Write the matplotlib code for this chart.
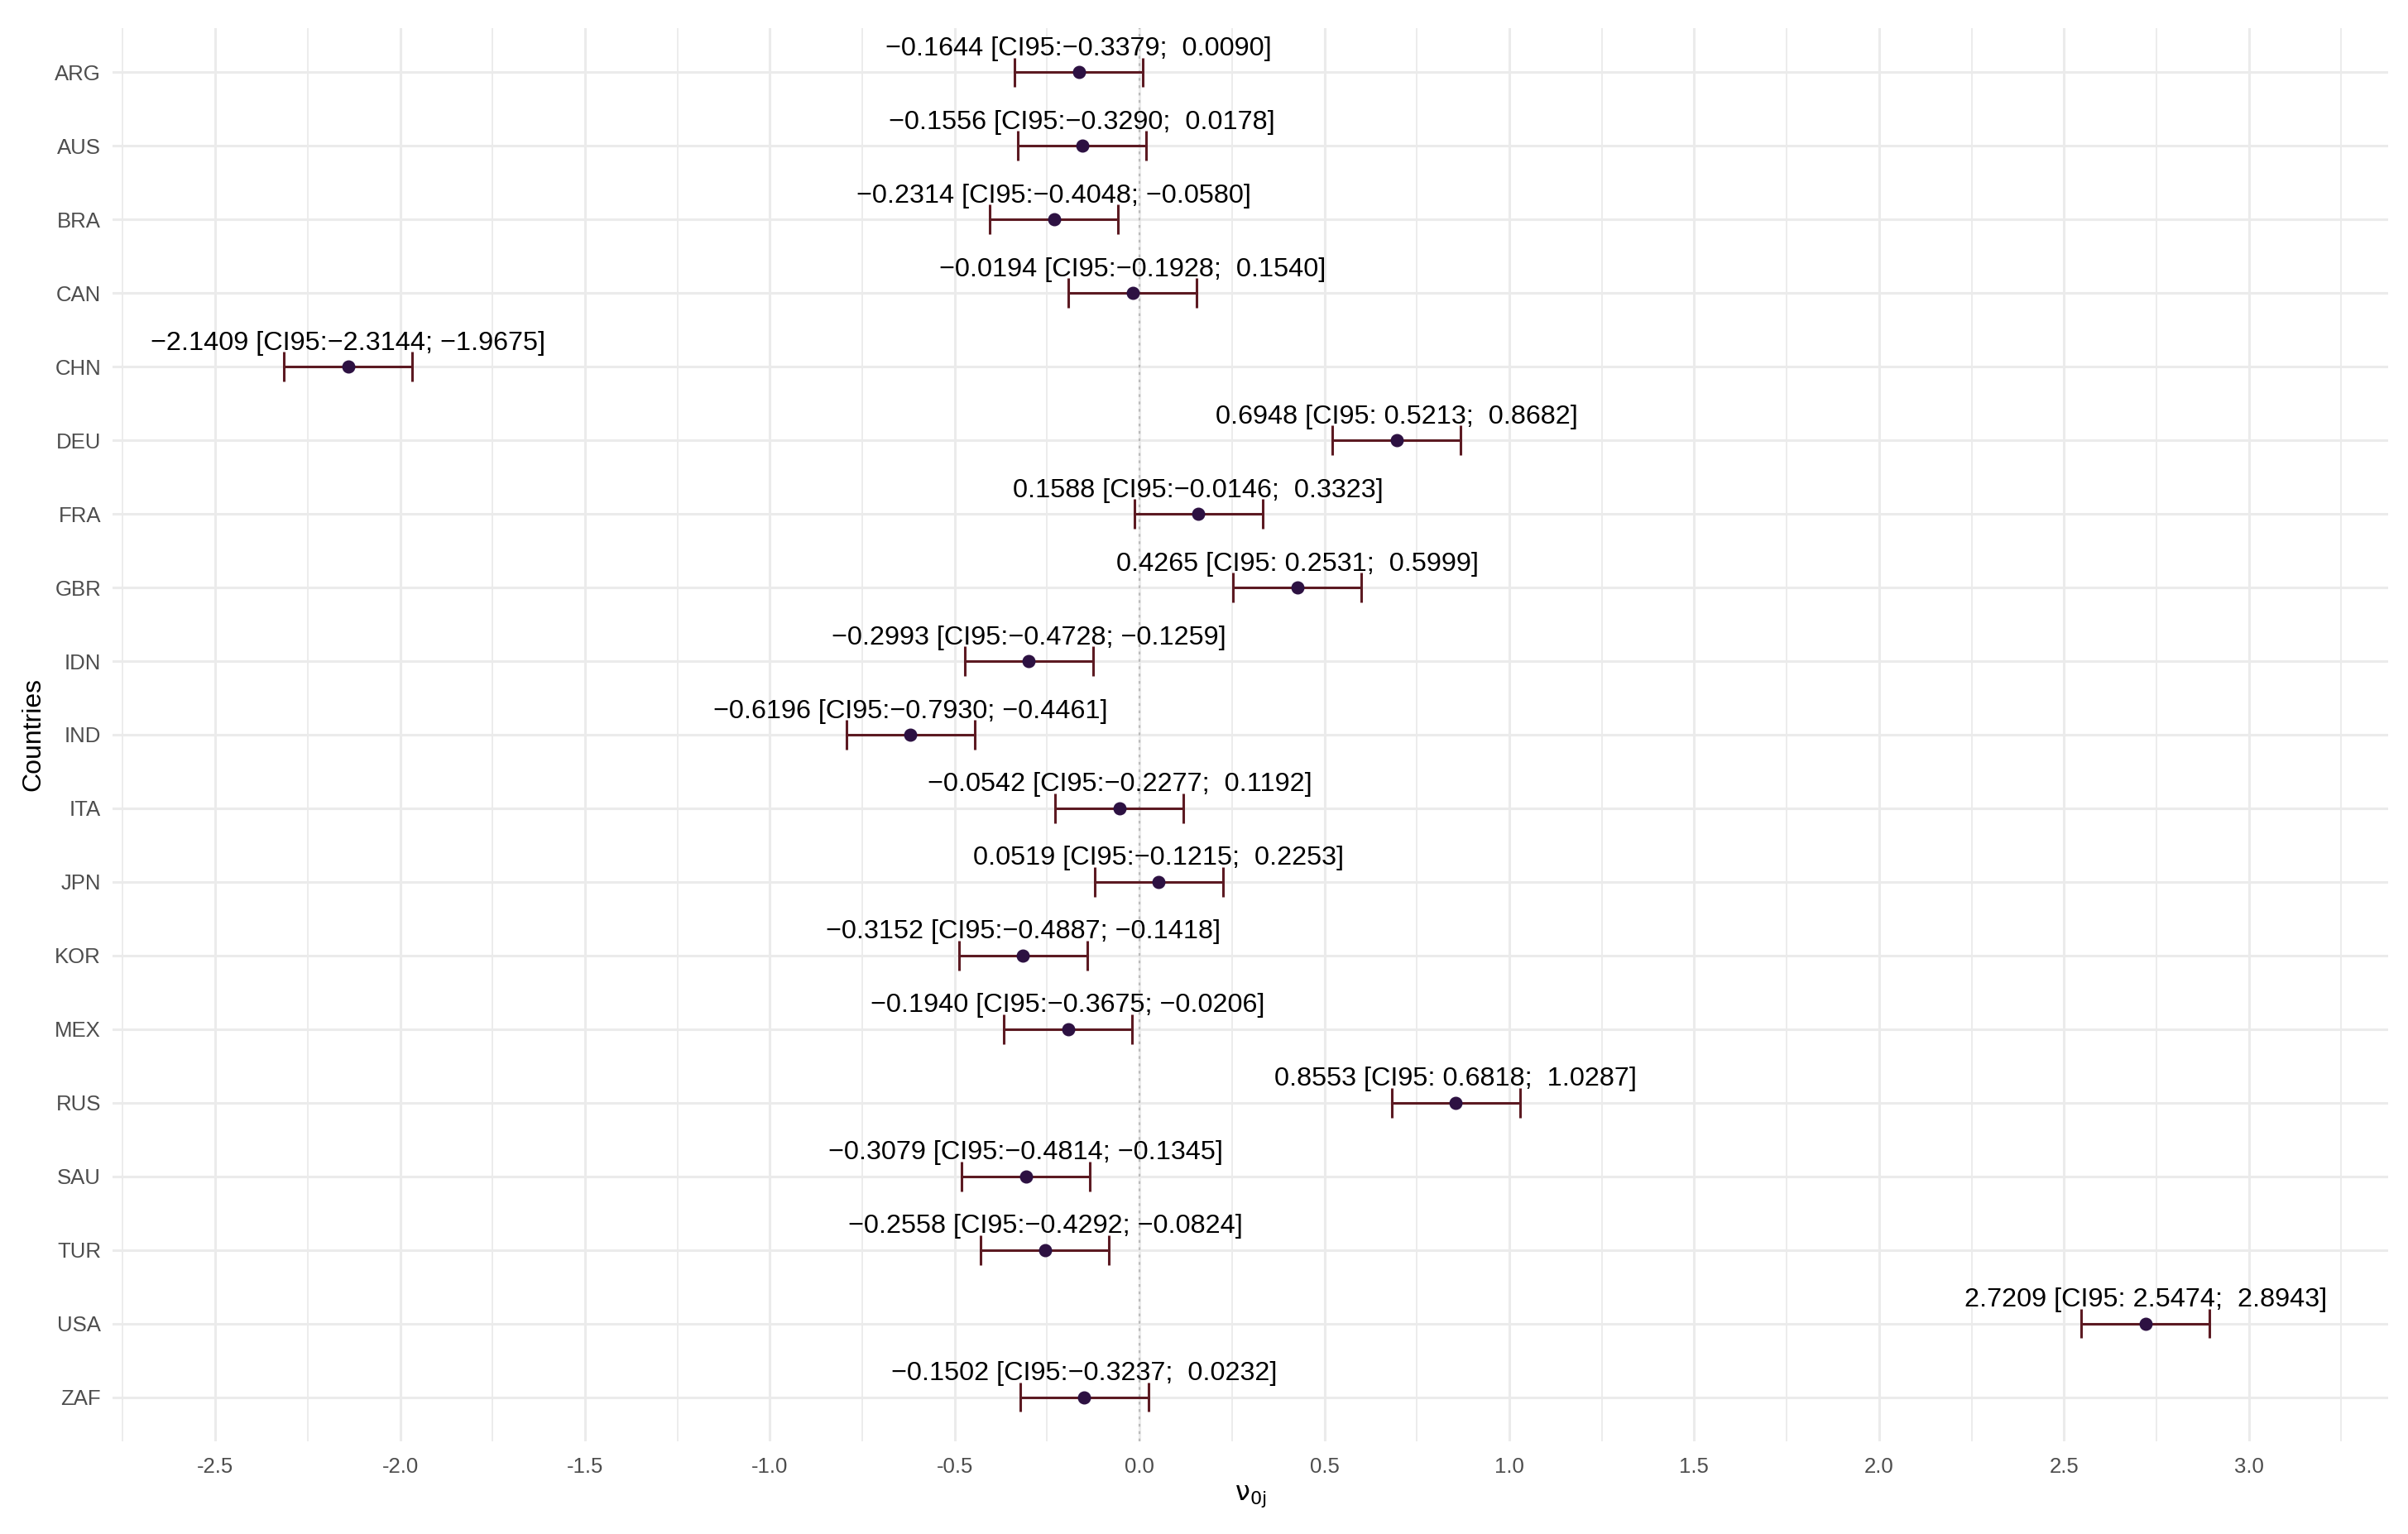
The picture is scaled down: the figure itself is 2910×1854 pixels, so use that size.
import matplotlib
matplotlib.use("Agg")
import matplotlib.pyplot as plt

# ----------
# DATA
# ----------
countries = ["ARG", "AUS", "BRA", "CAN", "CHN", "DEU", "FRA", "GBR", "IDN", "IND",
             "ITA", "JPN", "KOR", "MEX", "RUS", "SAU", "TUR", "USA", "ZAF"]
estimate = [-0.1644, -0.1556, -0.2314, -0.0194, -2.1409, 0.6948, 0.1588, 0.4265, -0.2993,
            -0.6196, -0.0542, 0.0519, -0.3152, -0.1940, 0.8553, -0.3079, -0.2558, 2.7209, -0.1502]
ci_low = [-0.3379, -0.3290, -0.4048, -0.1928, -2.3144, 0.5213, -0.0146, 0.2531, -0.4728,
          -0.7930, -0.2277, -0.1215, -0.4887, -0.3675, 0.6818, -0.4814, -0.4292, 2.5474, -0.3237]
ci_high = [0.0090, 0.0178, -0.0580, 0.1540, -1.9675, 0.8682, 0.3323, 0.5999, -0.1259,
           -0.4461, 0.1192, 0.2253, -0.1418, -0.0206, 1.0287, -0.1345, -0.0824, 2.8943, 0.0232]
x_ticks = [-2.5, -2.0, -1.5, -1.0, -0.5, 0.0, 0.5, 1.0, 1.5, 2.0, 2.5, 3.0]

# ----------
# STYLE
# ----------
plt.rcParams['font.family'] = ['Liberation Sans', 'DejaVu Sans']
plt.rcParams['axes.unicode_minus'] = False
plt.rcParams['mathtext.fontset'] = 'dejavusans'

grid_col = "#EBEBEB"
bar_col = "#5C1A22"
pt_col = "#2D1142"
tick_col = "#4D4D4D"


def fmt(v, pad=False):
    s = f"{v: .4f}" if pad else f"{v:.4f}"
    return s.replace("-", "\u2212")


fig = plt.figure(figsize=(29.10, 18.54), dpi=100)
ax = fig.add_axes([0.0467, 0.0604, 0.9451, 0.9213])

ypos = list(range(len(countries)))

# grid lines (ggplot theme_minimal look)
for t in x_ticks:
    ax.axvline(t, color=grid_col, lw=2.2, zorder=0)
for t in [-2.75] + [t + 0.25 for t in x_ticks]:
    ax.axvline(t, color=grid_col, lw=1.3, zorder=0)
for y in ypos:
    ax.axhline(y, color=grid_col, lw=2.2, zorder=0)

# reference line at zero
ax.axvline(0, color="#BBBBBB", lw=1.6, ls=(0, (1.5, 2.5)), zorder=1)

# error bars with caps
ax.hlines(ypos, ci_low, ci_high, color=bar_col, lw=2.2, zorder=2)
ax.vlines(ci_low, [y - 0.2 for y in ypos], [y + 0.2 for y in ypos], color=bar_col, lw=2.2, zorder=2)
ax.vlines(ci_high, [y - 0.2 for y in ypos], [y + 0.2 for y in ypos], color=bar_col, lw=2.2, zorder=2)

# point estimates
ax.plot(estimate, ypos, 'o', color=pt_col, ms=10.5, zorder=3)

# text labels
for y, e, lo, hi in zip(ypos, estimate, ci_low, ci_high):
    label = f"{fmt(e)} [CI95:{fmt(lo, True)}; {fmt(hi, True)}]"
    ax.text(e, y - 0.23, label, ha='center', va='baseline', fontsize=23.3, color='black', zorder=4)

ax.set_xlim(-2.778, 3.377)
ax.set_ylim(len(countries) - 0.4, -0.6)
ax.set_xticks(x_ticks)
ax.set_xticklabels([f"{t:.1f}" for t in x_ticks])
ax.set_yticks(ypos)
ax.set_yticklabels(countries)
ax.tick_params(axis='both', length=0, labelsize=18.5, labelcolor=tick_col)
ax.tick_params(axis='x', pad=14)
ax.tick_params(axis='y', pad=10)

for s in ax.spines.values():
    s.set_visible(False)

ax.set_xlabel(r'$\mathrm{\nu_{0j}}$', fontsize=23, labelpad=6)
ax.set_ylabel("Countries", fontsize=23, labelpad=8)

fig.savefig("out.png", dpi=100)
